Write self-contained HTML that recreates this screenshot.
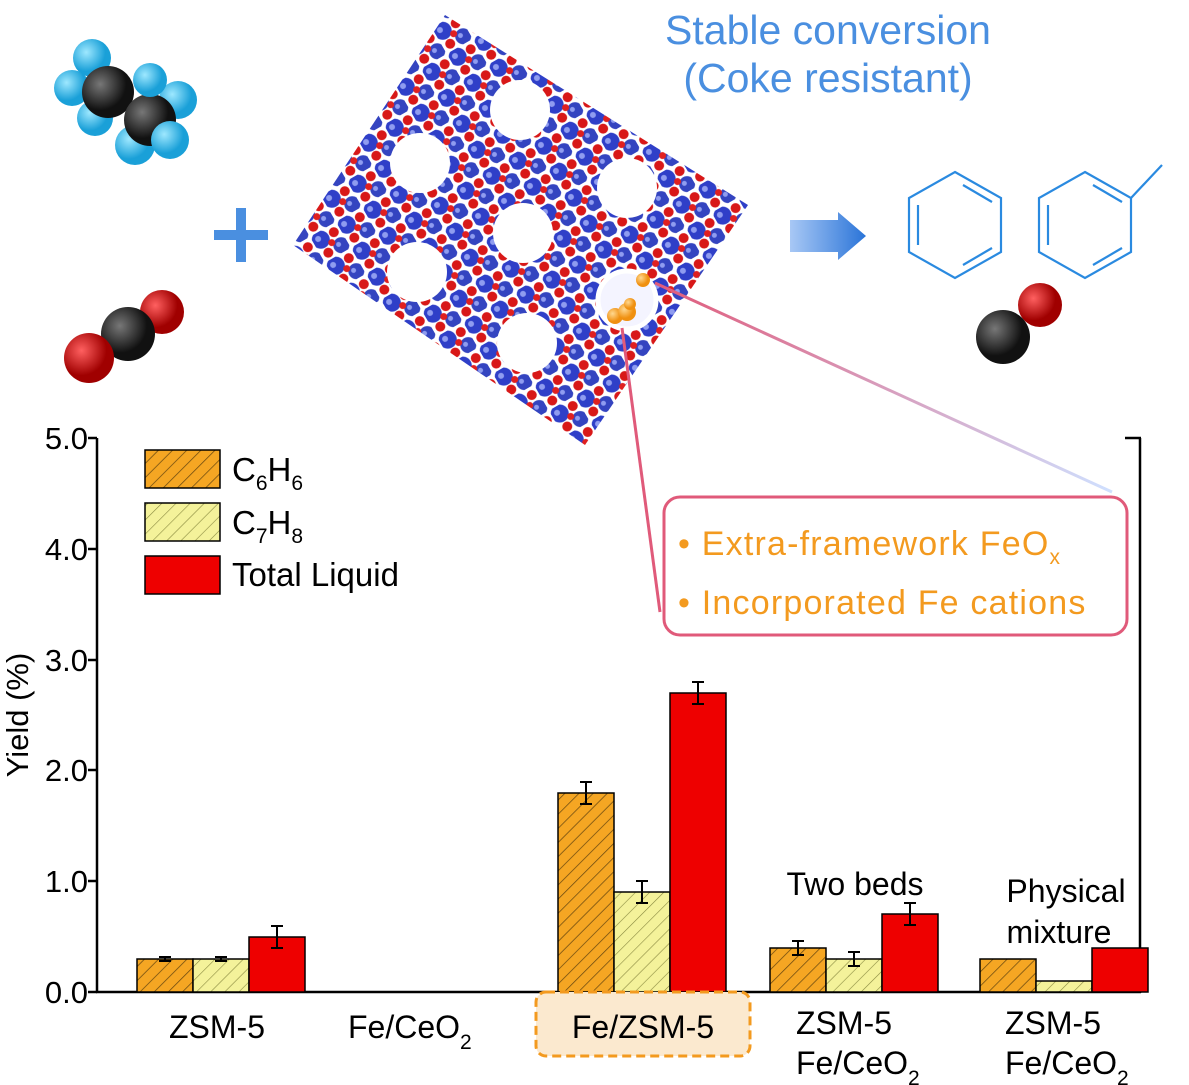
<!DOCTYPE html>
<html><head><meta charset="utf-8"><style>
html,body{margin:0;padding:0;background:#fff}
svg{display:block;font-family:"Liberation Sans",Arial,sans-serif}
</style></head><body>
<svg width="1189" height="1085" viewBox="0 0 1189 1085" xmlns="http://www.w3.org/2000/svg">
<defs>
<pattern id="ho" width="10" height="10" patternUnits="userSpaceOnUse" patternTransform="rotate(45)">
<rect width="10" height="10" fill="#f5a623"/><line x1="0" y1="0" x2="0" y2="10" stroke="#6b4a10" stroke-width="1.5"/></pattern>
<pattern id="hy" width="10" height="10" patternUnits="userSpaceOnUse" patternTransform="rotate(45)">
<rect width="10" height="10" fill="#f4f29a"/><line x1="0" y1="0" x2="0" y2="10" stroke="#8a8a40" stroke-width="1.2"/></pattern>
<pattern id="zeo" width="30" height="30" patternUnits="userSpaceOnUse" patternTransform="rotate(-30)">
<rect width="30" height="30" fill="#fff"/>
<circle cx="8" cy="8" r="9" fill="#2f3fc8"/><circle cx="6" cy="6" r="3" fill="#8f9cf0"/>
<circle cx="23" cy="8" r="5" fill="#d81818"/><circle cx="8" cy="23" r="5" fill="#d81818"/>
<circle cx="23" cy="23" r="8" fill="#3444c0"/><circle cx="21" cy="21" r="2.5" fill="#8f9cf0"/><circle cx="16" cy="16" r="3.5" fill="#e02020"/>
</pattern>
<radialGradient id="gb" cx="35%" cy="35%"><stop offset="0" stop-color="#8aa0ff"/><stop offset="1" stop-color="#1f2fb8"/></radialGradient>
<radialGradient id="gr" cx="35%" cy="35%"><stop offset="0" stop-color="#ff6060"/><stop offset="1" stop-color="#a00000"/></radialGradient>
<radialGradient id="gk" cx="35%" cy="35%"><stop offset="0" stop-color="#777"/><stop offset="1" stop-color="#111"/></radialGradient>
<radialGradient id="gc" cx="35%" cy="35%"><stop offset="0" stop-color="#9ee8ff"/><stop offset="1" stop-color="#1aa0d8"/></radialGradient>
<radialGradient id="go" cx="35%" cy="35%"><stop offset="0" stop-color="#ffd890"/><stop offset="1" stop-color="#f09010"/></radialGradient>
<linearGradient id="ln" x1="0" y1="0" x2="1" y2="0"><stop offset="0" stop-color="#e05a7a"/><stop offset="1" stop-color="#cfe0ff"/></linearGradient>
<linearGradient id="ar" x1="0" y1="0" x2="1" y2="0"><stop offset="0" stop-color="#a8c8f5"/><stop offset="1" stop-color="#2a74d8"/></linearGradient>
</defs>

<!-- ethane -->
<g>
<circle cx="92" cy="58" r="19" fill="url(#gc)"/><circle cx="72" cy="88" r="18" fill="url(#gc)"/>
<circle cx="95" cy="118" r="18" fill="url(#gc)"/>
<circle cx="108" cy="92" r="26" fill="url(#gk)"/>
<circle cx="178" cy="100" r="19" fill="url(#gc)"/><circle cx="135" cy="145" r="20" fill="url(#gc)"/>
<circle cx="150" cy="120" r="26" fill="url(#gk)"/>
<circle cx="170" cy="140" r="19" fill="url(#gc)"/><circle cx="150" cy="80" r="17" fill="url(#gc)"/>
</g>
<!-- plus -->
<rect x="214" y="230" width="54" height="10" fill="#4a8fe0"/><rect x="236" y="208" width="10" height="54" fill="#4a8fe0"/>
<!-- CO2 -->
<circle cx="162" cy="312" r="22" fill="url(#gr)"/><circle cx="128" cy="334" r="27" fill="url(#gk)"/><circle cx="89" cy="358" r="25" fill="url(#gr)"/>

<!-- zeolite -->
<polygon points="445,15 748,205 585,445 293,245" fill="url(#zeo)"/>
<g fill="#fff">
<circle cx="420" cy="163" r="30"/><circle cx="520" cy="110" r="30"/><circle cx="627" cy="188" r="30"/>
<circle cx="523" cy="233" r="30"/><circle cx="417" cy="272" r="30"/><circle cx="527" cy="343" r="30"/>
</g>
<circle cx="627" cy="300" r="29" fill="#f4f4ff" stroke="#fff" stroke-width="5"/>
<circle cx="643" cy="280" r="7" fill="url(#go)"/><circle cx="615" cy="316" r="8" fill="url(#go)"/><circle cx="627" cy="312" r="9" fill="url(#go)"/><circle cx="630" cy="304" r="6" fill="url(#go)"/>
<line x1="655" y1="283" x2="1112" y2="492" stroke="url(#ln)" stroke-width="3"/>
<line x1="622" y1="328" x2="660" y2="612" stroke="#e05a7a" stroke-width="3"/>

<!-- title -->
<text x="828" y="44" font-size="41" fill="#4a8fe0" text-anchor="middle">Stable conversion</text>
<text x="828" y="92" font-size="41" fill="#4a8fe0" text-anchor="middle">(Coke resistant)</text>

<!-- arrow -->
<polygon points="790,220 838,220 838,212 866,236 838,260 838,252 790,252" fill="url(#ar)"/>
<!-- benzene -->
<g fill="none" stroke="#2a8ae0" stroke-width="2.2">
<polygon points="955,172 1001,198 1001,252 955,278 909,252 909,198"/>
<line x1="963" y1="185" x2="992" y2="202"/><line x1="992" y1="248" x2="963" y2="265"/><line x1="918" y1="245" x2="918" y2="205"/>
<polygon points="1085,172 1131,198 1131,252 1085,278 1039,252 1039,198"/>
<line x1="1093" y1="185" x2="1122" y2="202"/><line x1="1122" y1="248" x2="1093" y2="265"/><line x1="1048" y1="245" x2="1048" y2="205"/>
<line x1="1131" y1="198" x2="1162" y2="165"/>
</g>
<!-- CO -->
<circle cx="1040" cy="305" r="22" fill="url(#gr)"/><circle cx="1003" cy="337" r="27" fill="url(#gk)"/>

<!-- axes -->
<g stroke="#000" stroke-width="2.5" fill="none">
<line x1="97" y1="438" x2="97" y2="993"/><line x1="96" y1="992" x2="1141" y2="992"/>
<line x1="1140" y1="438" x2="1140" y2="993"/><line x1="1125" y1="438" x2="1141" y2="438"/>
<line x1="88" y1="438" x2="97" y2="438"/><line x1="88" y1="549" x2="97" y2="549"/><line x1="88" y1="660" x2="97" y2="660"/>
<line x1="88" y1="770" x2="97" y2="770"/><line x1="88" y1="881" x2="97" y2="881"/><line x1="88" y1="992" x2="97" y2="992"/>
</g>
<g font-size="31" text-anchor="end" fill="#000">
<text x="88" y="449">5.0</text><text x="88" y="560">4.0</text><text x="88" y="671">3.0</text>
<text x="88" y="781">2.0</text><text x="88" y="892">1.0</text><text x="88" y="1003">0.0</text>
</g>
<text transform="translate(28,715) rotate(-90)" font-size="31" text-anchor="middle">Yield (%)</text>

<!-- legend -->
<rect x="145" y="450" width="75" height="38" fill="url(#ho)" stroke="#000" stroke-width="1.5"/>
<rect x="145" y="503" width="75" height="38" fill="url(#hy)" stroke="#000" stroke-width="1.5"/>
<rect x="145" y="556" width="75" height="38" fill="#ee0000" stroke="#000" stroke-width="1.5"/>
<text x="232" y="481" font-size="33">C<tspan font-size="21" dy="9">6</tspan><tspan dy="-9">H</tspan><tspan font-size="21" dy="9">6</tspan></text>
<text x="232" y="534" font-size="33">C<tspan font-size="21" dy="9">7</tspan><tspan dy="-9">H</tspan><tspan font-size="21" dy="9">8</tspan></text>
<text x="232" y="586" font-size="33">Total Liquid</text>

<!-- callout box -->
<rect x="664" y="497" width="463" height="138" rx="16" fill="#fff" stroke="#e05a7a" stroke-width="3"/>
<text x="678" y="555" font-size="34" letter-spacing="1.2" fill="#f39a1f">• Extra-framework FeO<tspan font-size="21" dy="9">x</tspan></text>
<text x="678" y="614" font-size="34" letter-spacing="1.2" fill="#f39a1f">• Incorporated Fe cations</text>

<!-- bars -->
<g stroke="#000" stroke-width="1.5">
<rect x="137" y="959" width="56" height="33" fill="url(#ho)"/><rect x="193" y="959" width="56" height="33" fill="url(#hy)"/><rect x="249" y="937" width="56" height="55" fill="#ee0000"/>
<rect x="558" y="793" width="56" height="199" fill="url(#ho)"/><rect x="614" y="892" width="56" height="100" fill="url(#hy)"/><rect x="670" y="693" width="56" height="299" fill="#ee0000"/>
<rect x="770" y="948" width="56" height="44" fill="url(#ho)"/><rect x="826" y="959" width="56" height="33" fill="url(#hy)"/><rect x="882" y="914" width="56" height="78" fill="#ee0000"/>
<rect x="980" y="959" width="56" height="33" fill="url(#ho)"/><rect x="1036" y="981" width="56" height="11" fill="url(#hy)"/><rect x="1092" y="948" width="56" height="44" fill="#ee0000"/>
</g>
<!-- error bars -->
<g stroke="#000" stroke-width="2" fill="none">
<path d="M165 957v4M159 957h12M159 961h12"/><path d="M221 957v4M215 957h12M215 961h12"/>
<path d="M277 926v22M271 926h12M271 948h12"/>
<path d="M586 782v22M580 782h12M580 804h12"/><path d="M642 881v22M636 881h12M636 903h12"/>
<path d="M698 682v22M692 682h12M692 704h12"/>
<path d="M798 941v14M792 941h12M792 955h12"/><path d="M854 952v14M848 952h12M848 966h12"/>
<path d="M910 903v22M904 903h12M904 925h12"/>
</g>
<text x="855" y="895" font-size="32" text-anchor="middle">Two beds</text>
<text x="1066" y="902" font-size="32" text-anchor="middle">Physical</text>
<text x="1059" y="943" font-size="32" text-anchor="middle">mixture</text>

<!-- x labels -->
<rect x="536" y="992" width="214" height="64" rx="10" fill="#fbe9cf" stroke="#f39a1f" stroke-width="3" stroke-dasharray="9,5"/>
<g font-size="32" fill="#000">
<text x="217" y="1038" text-anchor="middle">ZSM-5</text>
<text x="348" y="1038">Fe/CeO<tspan font-size="21" dy="11">2</tspan></text>
<text x="643" y="1038" text-anchor="middle">Fe/ZSM-5</text>
<text x="796" y="1034">ZSM-5</text>
<text x="796" y="1074">Fe/CeO<tspan font-size="21" dy="11">2</tspan></text>
<text x="1005" y="1034">ZSM-5</text>
<text x="1005" y="1074">Fe/CeO<tspan font-size="21" dy="11">2</tspan></text>
</g>
</svg>
</body></html>
